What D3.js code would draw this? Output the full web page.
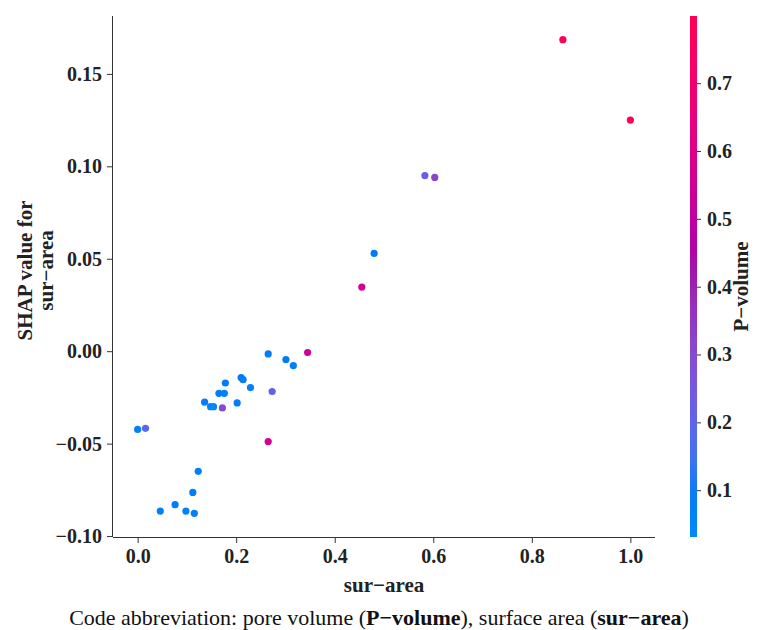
<!DOCTYPE html>
<html>
<head>
<meta charset="utf-8">
<script src="https://cdn.jsdelivr.net/npm/d3@7"></script>
<style>
  html, body { margin: 0; padding: 0; background: #fff; }
  svg { display: block; font-family: "Liberation Serif", "Times New Roman", serif; }
  .tick text { font-family: "Liberation Serif", "Times New Roman", serif; font-weight: bold; font-size: 20px; fill: #222; }
  .tick line { stroke: #333; }
  .domain { stroke: #333; }
</style>
</head>
<body>
<svg id="chart" width="760" height="630"></svg>
<script>
// Feature value (x), its SHAP value (y) and the interaction feature used for colour
const surArea = [0.000, 0.016, 0.046, 0.076, 0.098, 0.115, 0.112, 0.123, 0.136, 0.148,
                 0.154, 0.165, 0.176, 0.172, 0.178, 0.202, 0.210, 0.214, 0.229, 0.265,
                 0.273, 0.265, 0.301, 0.316, 0.345, 0.480, 0.455, 0.583, 0.603, 0.863, 1.000];
const shapValues = [-0.0423, -0.0417, -0.0865, -0.0830, -0.0865, -0.0877, -0.0764, -0.0650, -0.0276, -0.0300,
                    -0.0300, -0.0228, -0.0228, -0.0307, -0.0172, -0.0280, -0.0143, -0.0154, -0.0197, -0.0015,
                    -0.0218, -0.0489, -0.0045, -0.0078, -0.0007, 0.0529, 0.0347, 0.0950, 0.0940, 0.1685, 0.1250];
const pVolume = [0.060, 0.190, 0.070, 0.080, 0.070, 0.080, 0.090, 0.080, 0.090, 0.060,
                 0.031, 0.080, 0.070, 0.290, 0.090, 0.080, 0.100, 0.090, 0.080, 0.090,
                 0.210, 0.560, 0.100, 0.080, 0.550, 0.100, 0.560, 0.220, 0.320, 0.799, 0.770];
const xTicks = [0.0, 0.2, 0.4, 0.6, 0.8, 1.0];
const yTicks = [-0.10, -0.05, 0.00, 0.05, 0.10, 0.15];
const cTicks = [0.1, 0.2, 0.3, 0.4, 0.5, 0.6, 0.7];

const points = surArea.map((x, i) => ({ x, y: shapValues[i], c: pVolume[i] }));

const svg = d3.select("#chart");
const plot = { left: 113, right: 655, top: 16, bottom: 537 };

// axis limits with a 5% margin around the data
function padded(vals) {
  const [lo, hi] = d3.extent(vals);
  const m = (hi - lo) * 0.05;
  return [lo - m, hi + m];
}
const x = d3.scaleLinear().domain(padded(surArea)).range([plot.left, plot.right]);
const y = d3.scaleLinear().domain(padded(shapValues)).range([plot.bottom, plot.top]);

// blue -> purple -> red colour map interpolated in LCH space
function redBlue(t) {
  t = Math.max(0, Math.min(1, t));
  const l = t < 0.5 ? 54 + (40 - 54) * (t / 0.5) : 40 + (54 - 40) * ((t - 0.5) / 0.5);
  const c = 70 + (90 - 70) * t;
  const h = 266.93 + (380.32 - 266.93) * t;
  return d3.hcl(h % 360, c, l).formatRgb();
}
const cExtent = d3.extent(pVolume);
const cNorm = d3.scaleLinear().domain(cExtent).range([0, 1]);
const colour = v => redBlue(cNorm(v));

// axes
svg.append("g")
  .attr("transform", `translate(0,${plot.bottom})`)
  .call(d3.axisBottom(x).tickValues(xTicks).tickFormat(d3.format(".1f")).tickSize(6).tickPadding(6))
  .call(g => g.select(".domain").attr("d", `M${plot.left},0.5H${plot.right}`));

svg.append("g")
  .attr("transform", `translate(${plot.left},0)`)
  .call(d3.axisLeft(y).tickValues(yTicks).tickFormat(d => d3.format(".2f")(d).replace("-", "\u2212")).tickSize(6).tickPadding(5))
  .call(g => g.select(".domain").attr("d", `M-0.5,${plot.top}V${plot.bottom}`));

// scatter points
svg.append("g")
  .selectAll("circle")
  .data(points)
  .join("circle")
  .attr("cx", d => x(d.x))
  .attr("cy", d => y(d.y))
  .attr("r", 3.6)
  .attr("fill", d => colour(d.c));

// colour bar
const bar = { x: 690, w: 7, top: 16, bottom: 537 };
const cy = d3.scaleLinear().domain(cExtent).range([bar.bottom, bar.top]);
const defs = svg.append("defs");
const grad = defs.append("linearGradient")
  .attr("id", "cbar").attr("x1", 0).attr("y1", 1).attr("x2", 0).attr("y2", 0);
d3.range(0, 1.0001, 0.05).forEach(t => {
  grad.append("stop").attr("offset", t).attr("stop-color", redBlue(t));
});
svg.append("rect")
  .attr("x", bar.x).attr("y", bar.top)
  .attr("width", bar.w).attr("height", bar.bottom - bar.top)
  .attr("fill", "url(#cbar)");
svg.append("g")
  .attr("transform", `translate(${bar.x + bar.w},0)`)
  .call(d3.axisRight(cy).tickValues(cTicks).tickFormat(d3.format(".1f")).tickSize(4).tickPadding(6))
  .call(g => g.select(".domain").remove());

svg.append("text")
  .attr("transform", `translate(748,${(bar.top + bar.bottom) / 2 + 10}) rotate(-90)`)
  .attr("text-anchor", "middle")
  .attr("font-weight", "bold").attr("font-size", 21).attr("fill", "#222")
  .text("P\u2212volume");

// axis titles
svg.append("text")
  .attr("x", (plot.left + plot.right) / 2).attr("y", 592)
  .attr("text-anchor", "middle")
  .attr("font-weight", "bold").attr("font-size", 21).attr("fill", "#222")
  .text("sur\u2212area");

const yTitle = svg.append("text")
  .attr("transform", `translate(0,${(plot.top + plot.bottom) / 2 - 6}) rotate(-90)`)
  .attr("text-anchor", "middle")
  .attr("font-weight", "bold").attr("font-size", 21).attr("fill", "#222");
yTitle.append("tspan").attr("x", 0).attr("y", 32).text("SHAP value for");
yTitle.append("tspan").attr("x", 0).attr("y", 53).text("sur\u2212area");

// caption
const cap = svg.append("text")
  .attr("x", 379).attr("y", 625)
  .attr("text-anchor", "middle")
  .attr("font-size", 22).attr("fill", "#111");
cap.append("tspan").text("Code abbreviation: pore volume (");
cap.append("tspan").attr("font-weight", "bold").text("P\u2212volume");
cap.append("tspan").text("), surface area (");
cap.append("tspan").attr("font-weight", "bold").text("sur\u2212area");
cap.append("tspan").text(")");
</script>
</body>
</html>
